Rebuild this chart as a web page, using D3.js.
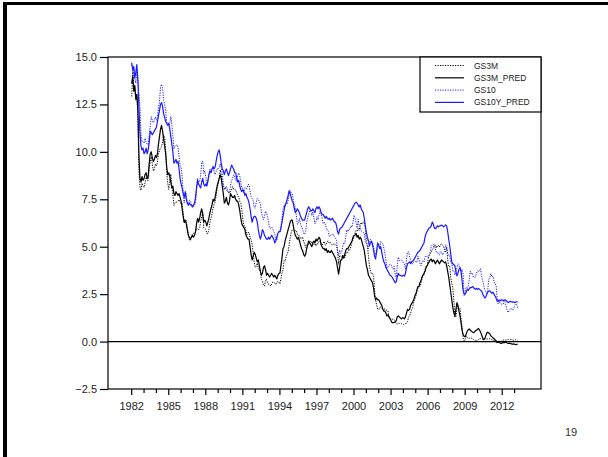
<!DOCTYPE html>
<html>
<head>
<meta charset="utf-8">
<script src="https://cdn.jsdelivr.net/npm/d3@7/dist/d3.min.js"></script>
<style>
  body { margin: 0; background: #fff; }
  svg { display: block; font-family: "Liberation Sans", Arial, sans-serif; }
</style>
</head>
<body>
<svg id="chart" width="608" height="457"></svg>
<script>
// Monthly observations, January 1982 through April 2013
const startYear = 1982;

const gs3m = [
  12.92,14.28,13.31,13.34,12.71,13.08,11.86,9.00,8.19,7.97,8.35,8.20,
  8.12,8.39,8.66,8.51,8.50,9.14,9.45,9.74,9.36,8.99,9.11,9.36,
  9.26,9.46,9.89,10.07,10.22,10.26,10.53,10.90,10.80,10.12,8.92,8.34,
  8.02,8.56,8.83,8.22,7.73,7.18,7.32,7.37,7.33,7.40,7.48,7.33,
  7.30,7.29,6.76,6.24,6.33,6.40,6.00,5.69,5.35,5.32,5.50,5.68,
  5.70,5.69,5.78,5.99,5.94,5.89,6.01,6.32,6.57,6.86,5.99,5.96,
  5.91,5.69,5.69,5.92,6.27,6.50,6.73,7.02,7.23,7.34,7.68,8.09,
  8.29,8.58,9.05,8.80,8.40,8.22,8.05,8.10,8.02,7.90,7.85,7.84,
  7.90,8.00,8.17,8.04,8.01,7.99,7.87,7.69,7.60,7.40,7.29,6.95,
  6.41,6.12,6.09,5.83,5.63,5.75,5.75,5.50,5.37,5.14,4.69,4.18,
  3.91,3.95,4.14,3.84,3.75,3.77,3.28,3.20,2.97,2.93,3.21,3.29,
  3.07,3.03,3.03,2.93,3.03,3.14,3.11,3.09,3.01,3.09,3.18,3.13,
  3.04,3.33,3.59,3.78,4.27,4.25,4.46,4.61,4.75,5.10,5.45,5.76,
  5.90,5.94,5.91,5.84,5.85,5.64,5.59,5.57,5.43,5.44,5.52,5.29,
  5.15,4.96,5.10,5.09,5.15,5.23,5.30,5.19,5.24,5.12,5.17,5.04,
  5.17,5.14,5.28,5.30,5.20,5.07,5.19,5.28,5.08,5.11,5.28,5.30,
  5.18,5.23,5.16,5.08,5.13,5.14,5.12,5.04,4.74,4.07,4.53,4.50,
  4.45,4.56,4.57,4.41,4.63,4.72,4.69,4.87,4.82,5.02,5.23,5.36,
  5.50,5.73,5.86,5.82,5.99,5.86,6.14,6.28,6.18,6.29,6.36,5.94,
  5.29,5.01,4.54,3.97,3.70,3.57,3.59,3.44,2.69,2.20,1.91,1.72,
  1.68,1.76,1.83,1.75,1.76,1.73,1.71,1.65,1.66,1.61,1.25,1.21,
  1.19,1.19,1.15,1.15,1.09,0.94,0.92,0.97,0.96,0.94,0.95,0.91,
  0.90,0.94,0.95,0.96,1.04,1.29,1.36,1.50,1.68,1.79,2.11,2.22,
  2.37,2.58,2.80,2.84,2.90,3.04,3.29,3.52,3.49,3.79,3.97,3.97,
  4.34,4.54,4.63,4.72,4.84,4.92,5.08,5.09,4.93,5.05,5.07,4.97,
  5.11,5.16,5.08,5.01,4.87,4.74,4.96,4.32,3.99,4.00,3.35,3.07,
  2.82,2.17,1.28,1.31,1.76,1.89,1.66,1.75,1.15,0.69,0.19,0.03,
  0.13,0.30,0.22,0.16,0.18,0.18,0.18,0.17,0.12,0.07,0.05,0.05,
  0.06,0.11,0.15,0.16,0.16,0.12,0.16,0.16,0.15,0.13,0.14,0.14,
  0.15,0.13,0.10,0.06,0.04,0.04,0.04,0.02,0.01,0.02,0.01,0.01,
  0.03,0.09,0.08,0.08,0.09,0.09,0.10,0.10,0.11,0.10,0.09,0.07,
  0.07,0.10,0.09,0.06
];

const gs3mPred = [
  13.6,14.0,13.2,13.5,12.8,13.0,12.2,9.8,8.6,8.4,8.7,8.5,
  8.6,8.8,8.9,8.6,8.7,9.4,9.9,10.0,9.7,9.5,9.6,9.8,
  9.7,9.9,10.4,10.8,11.2,11.4,11.1,10.7,10.3,9.9,9.2,8.8,
  8.9,8.7,8.4,8.1,8.2,7.8,7.7,7.9,7.8,7.7,7.8,7.6,
  7.4,7.0,6.6,6.3,6.4,6.2,5.9,5.6,5.5,5.4,5.5,5.6,
  5.5,5.6,5.8,6.2,6.5,6.3,6.5,6.8,7.0,6.7,6.3,6.4,
  6.3,6.1,6.3,6.5,6.8,7.0,7.2,7.5,7.4,7.6,7.9,8.2,
  8.4,8.6,8.8,8.6,8.2,7.8,7.3,7.4,7.6,7.3,7.2,7.4,
  7.8,7.7,7.6,7.6,7.7,7.5,7.4,7.4,7.2,6.9,6.5,6.2,
  6.1,6.0,5.9,5.6,5.5,5.4,5.4,5.0,4.6,4.3,4.5,4.7,
  4.6,4.4,4.2,4.3,4.0,3.7,3.5,3.6,3.9,4.0,3.8,3.5,
  3.6,3.5,3.4,3.5,3.6,3.5,3.4,3.5,3.4,3.3,3.5,3.6,
  3.6,4.0,4.4,4.9,5.0,5.3,5.5,5.7,5.9,6.1,6.3,6.4,
  6.4,6.1,5.8,5.6,5.5,5.4,5.5,5.3,5.1,4.9,4.8,4.6,
  4.5,4.6,4.9,5.1,5.3,5.2,5.1,5.0,5.2,5.3,5.2,5.4,
  5.3,5.4,5.5,5.4,5.1,5.0,4.9,4.9,4.8,4.9,4.7,4.8,
  4.7,4.7,4.8,4.7,4.6,4.5,4.4,4.2,3.9,3.55,3.9,4.3,
  4.3,4.5,4.4,4.6,4.8,4.9,4.9,5.0,5.1,5.2,5.3,5.5,
  5.6,5.6,5.7,5.5,5.6,5.4,5.5,5.4,5.2,5.0,4.8,4.4,
  4.0,3.8,3.5,3.4,3.3,3.2,3.1,2.8,2.4,2.2,2.3,2.2,
  2.2,2.1,2.0,1.9,1.7,1.6,1.6,1.5,1.35,1.4,1.3,1.2,
  1.1,1.0,1.0,1.0,1.05,1.1,1.3,1.35,1.3,1.25,1.2,1.25,
  1.25,1.2,1.3,1.5,1.7,1.65,1.7,1.9,2.0,2.1,2.2,2.4,
  2.5,2.7,2.9,2.9,3.1,3.2,3.4,3.5,3.6,3.7,3.9,4.0,
  4.1,4.2,4.3,4.35,4.2,4.3,4.25,4.1,4.2,4.3,4.2,4.1,
  4.2,4.3,4.25,4.2,4.15,4.2,4.0,3.7,3.4,3.0,2.6,2.2,
  1.8,1.5,1.34,1.7,2.05,1.9,1.6,1.34,1.0,0.6,0.37,0.28,
  0.25,0.4,0.55,0.62,0.67,0.6,0.55,0.5,0.47,0.5,0.58,0.6,
  0.65,0.69,0.6,0.5,0.35,0.2,0.1,0.15,0.3,0.45,0.5,0.45,
  0.4,0.3,0.25,0.2,0.15,0.1,0.02,-0.05,-0.03,-0.05,-0.08,-0.1,
  -0.07,-0.05,-0.06,-0.03,-0.05,-0.08,-0.1,-0.08,-0.1,-0.12,-0.14,-0.12,
  -0.14,-0.16,-0.15,-0.13
];

const gs10 = [
  14.59,14.43,13.86,13.87,13.62,14.30,13.95,13.06,12.34,10.91,10.55,10.54,
  10.46,10.72,10.51,10.40,10.38,10.85,11.38,11.85,11.65,11.54,11.69,11.83,
  11.67,11.84,12.32,12.63,13.41,13.56,13.36,12.72,12.52,12.16,11.57,11.50,
  11.38,11.51,11.86,11.43,10.85,10.16,10.31,10.33,10.37,10.24,9.78,9.26,
  9.19,8.70,7.78,7.30,7.71,7.80,7.30,7.17,7.45,7.43,7.25,7.11,
  7.08,7.25,7.25,8.02,8.61,8.40,8.45,8.76,9.42,9.52,8.86,8.99,
  8.67,8.21,8.37,8.72,9.09,8.92,9.06,9.26,8.98,8.80,8.96,9.11,
  9.09,9.17,9.36,9.18,8.86,8.28,8.02,8.11,8.19,8.01,7.87,7.84,
  8.21,8.47,8.59,8.79,8.76,8.48,8.47,8.75,8.89,8.72,8.39,8.08,
  8.09,7.85,8.11,8.04,8.07,8.28,8.27,7.90,7.65,7.53,7.42,7.09,
  7.03,7.34,7.54,7.48,7.39,7.26,6.84,6.59,6.42,6.59,6.87,6.77,
  6.60,6.26,5.98,5.97,6.04,5.96,5.81,5.68,5.36,5.33,5.72,5.77,
  5.75,5.97,6.48,6.97,7.18,7.10,7.30,7.24,7.46,7.74,7.96,7.81,
  7.78,7.47,7.20,7.06,6.63,6.17,6.28,6.49,6.20,6.04,5.93,5.71,
  5.65,5.81,6.27,6.51,6.74,6.91,6.87,6.64,6.83,6.53,6.20,6.30,
  6.58,6.42,6.69,6.89,6.71,6.49,6.22,6.30,6.21,6.03,5.88,5.81,
  5.54,5.57,5.65,5.64,5.65,5.50,5.46,5.34,4.81,4.53,4.83,4.65,
  4.72,5.00,5.23,5.18,5.54,5.90,5.79,5.94,5.92,6.11,6.03,6.28,
  6.66,6.52,6.26,5.99,6.44,6.10,6.05,5.83,5.80,5.74,5.72,5.24,
  5.16,5.10,4.89,5.14,5.39,5.28,5.24,4.97,4.73,4.57,4.65,5.09,
  5.04,4.91,5.28,5.21,5.16,4.93,4.65,4.26,3.87,3.94,4.05,4.03,
  4.05,3.90,3.81,3.96,3.57,3.33,3.98,4.45,4.27,4.29,4.30,4.27,
  4.15,4.08,3.83,4.35,4.72,4.73,4.50,4.28,4.13,4.10,4.19,4.23,
  4.22,4.17,4.50,4.34,4.14,4.00,4.18,4.26,4.20,4.46,4.54,4.47,
  4.42,4.57,4.72,4.99,5.11,5.11,5.09,4.88,4.72,4.73,4.60,4.56,
  4.76,4.72,4.56,4.69,4.75,5.10,5.00,4.67,4.52,4.53,4.15,4.10,
  3.74,3.74,3.51,3.68,3.88,4.10,4.01,3.89,3.69,3.81,3.53,2.42,
  2.52,2.87,2.82,2.93,3.29,3.72,3.56,3.59,3.40,3.39,3.40,3.59,
  3.73,3.69,3.73,3.85,3.42,3.20,3.01,2.70,2.65,2.54,2.76,3.29,
  3.39,3.58,3.41,3.46,3.17,3.00,3.00,2.30,1.98,2.15,2.01,1.98,
  1.97,1.97,2.17,2.05,1.80,1.62,1.53,1.68,1.72,1.75,1.65,1.72,
  1.91,1.98,1.96,1.76
];

const gs10Pred = [
  14.7,14.3,14.5,13.9,14.2,14.6,13.7,12.4,11.0,10.3,10.1,10.2,
  9.9,10.0,10.2,9.9,10.1,10.5,11.1,11.0,10.9,11.0,11.1,11.2,
  11.3,11.6,11.9,12.2,12.5,12.6,12.4,12.0,11.8,11.6,11.5,11.4,
  11.5,11.2,10.8,10.4,10.0,9.4,9.5,9.6,9.4,9.5,9.1,8.6,
  8.3,8.1,7.8,7.6,7.9,7.5,7.3,7.2,7.3,7.2,7.2,7.1,
  7.2,7.3,7.6,8.1,8.5,8.3,8.2,8.1,8.4,8.6,8.3,8.2,
  8.3,8.2,8.5,8.8,9.0,8.9,9.1,9.2,9.1,9.2,9.5,9.8,
  10.0,10.1,9.8,9.4,9.1,9.0,8.8,9.0,9.1,8.9,8.75,8.9,
  9.1,9.3,9.2,9.1,8.9,8.9,8.6,8.4,8.5,8.2,8.0,7.9,
  8.0,7.9,7.7,7.8,7.6,7.5,7.3,7.0,6.6,6.3,6.5,6.6,
  6.6,6.5,6.3,5.9,5.6,5.4,5.6,5.9,5.8,5.6,5.5,5.4,
  5.4,5.5,5.4,5.5,5.6,5.5,5.4,5.2,5.3,5.5,5.7,5.8,
  5.8,6.0,6.3,6.6,6.9,7.2,7.3,7.5,7.7,7.95,7.8,7.6,
  7.4,7.3,7.0,6.8,6.9,7.0,6.9,6.8,6.6,6.5,6.4,6.4,
  6.4,6.6,6.8,7.0,7.1,7.0,6.9,6.9,7.0,6.9,6.8,7.0,
  7.1,7.0,7.1,7.0,6.8,6.7,6.7,6.6,6.5,6.6,6.5,6.45,
  6.5,6.4,6.45,6.5,6.4,6.3,6.3,6.1,5.8,5.66,5.9,6.0,
  6.0,6.1,6.2,6.3,6.4,6.5,6.6,6.7,6.8,6.9,7.0,7.1,
  7.2,7.3,7.35,7.3,7.2,7.1,7.2,7.0,6.9,6.8,6.5,6.1,
  5.75,5.5,5.3,5.05,5.2,5.3,5.1,4.8,4.5,4.35,4.8,5.2,
  5.1,4.9,5.0,4.7,4.4,4.2,4.1,3.9,3.8,3.7,3.6,3.5,
  3.46,3.4,3.3,3.2,3.1,3.15,3.4,3.6,3.5,3.5,3.45,3.46,
  3.5,3.45,3.6,3.9,4.1,4.15,4.2,4.1,4.2,4.25,4.3,4.4,
  4.5,4.6,4.7,4.75,4.8,4.9,5.0,5.1,5.2,5.5,5.7,5.8,
  5.9,6.0,6.0,6.1,6.3,6.2,6.0,5.95,6.0,6.1,6.05,6.1,
  6.1,6.15,6.1,6.05,6.1,6.15,6.1,5.8,5.4,5.05,4.6,4.2,
  4.1,4.05,4.0,3.7,3.46,3.6,3.8,3.9,3.7,3.2,2.7,2.5,
  2.5,2.6,2.75,2.7,2.8,2.85,2.84,2.9,2.85,2.8,2.75,2.8,
  2.75,2.8,2.75,2.7,2.67,2.5,2.4,2.3,2.35,2.5,2.6,2.67,
  2.67,2.6,2.55,2.6,2.5,2.4,2.3,2.13,2.15,2.2,2.15,2.2,
  2.2,2.15,2.2,2.2,2.15,2.1,2.05,2.1,2.12,2.1,2.08,2.1,
  2.05,2.08,2.1,2.08
];

const seriesNames = ["GS3M", "GS3M_PRED", "GS10", "GS10Y_PRED"];
const yTickValues = [-2.5, 0, 2.5, 5, 7.5, 10, 12.5, 15];
const xTickYears = d3.range(1982, 2014);
const xLabelYears = [1982, 1985, 1988, 1991, 1994, 1997, 2000, 2003, 2006, 2009, 2012];
const pageNumber = "19";

// Drawing styles for each series, in legend order
const seriesValues = [gs3m, gs3mPred, gs10, gs10Pred];
const seriesStyle = [
  { color: "#000000", dash: "1.2,1.3", width: 1.0 },
  { color: "#000000", dash: null,      width: 1.2 },
  { color: "#1a1aff", dash: "1.2,1.3", width: 1.0 },
  { color: "#1a1aff", dash: null,      width: 1.2 }
];

const svg = d3.select("#chart");
const W = 608, H = 457;
const plot = { left: 108, right: 541, top: 57, bottom: 389 };

// Page frame (left and top edges)
svg.append("line").attr("x1", 5).attr("x2", 5).attr("y1", 2).attr("y2", H)
  .attr("stroke", "#000").attr("stroke-width", 4);
svg.append("line").attr("x1", 3).attr("x2", W).attr("y1", 3.5).attr("y2", 3.5)
  .attr("stroke", "#000").attr("stroke-width", 3);

const x = d3.scaleLinear().domain([1980.08, 2015.14]).range([plot.left, plot.right]);
const y = d3.scaleLinear().domain([-2.5, 15]).range([plot.bottom, plot.top]);

const dateOf = i => startYear + i / 12;

// Plot box
const g = svg.append("g");
g.append("rect")
  .attr("x", plot.left).attr("y", plot.top)
  .attr("width", plot.right - plot.left).attr("height", plot.bottom - plot.top)
  .attr("fill", "none").attr("stroke", "#000").attr("stroke-width", 1.2);

// Zero reference line
g.append("line")
  .attr("x1", plot.left).attr("x2", plot.right)
  .attr("y1", y(0)).attr("y2", y(0))
  .attr("stroke", "#000").attr("stroke-width", 1.2);

// Y axis
const yAxis = d3.axisLeft(y).tickValues(yTickValues).tickFormat(d3.format(".1f")).tickSize(8).tickPadding(3);
const ya = g.append("g").attr("transform", `translate(${plot.left},0)`).call(yAxis);
ya.select(".domain").remove();
ya.selectAll("line").attr("stroke", "#000").attr("stroke-width", 1.2);
ya.selectAll("text").attr("font-size", 11).attr("fill", "#222")
  .attr("font-family", "'Liberation Sans', Arial, sans-serif");

// X axis: a tick every year, labels every third year
const xa = g.append("g").attr("transform", `translate(0,${plot.bottom})`);
xa.selectAll("line.tick").data(xTickYears).join("line")
  .attr("class", "tick")
  .attr("x1", d => x(d)).attr("x2", d => x(d))
  .attr("y1", 0).attr("y2", d => xLabelYears.includes(d) ? 6 : 4)
  .attr("stroke", "#000").attr("stroke-width", 1.2);
xa.selectAll("text").data(xLabelYears).join("text")
  .attr("x", d => x(d)).attr("y", 21)
  .attr("text-anchor", "middle")
  .attr("font-size", 11).attr("fill", "#222")
  .text(d => d);

// Series lines
const line = d3.line().x((d, i) => x(dateOf(i))).y(d => y(d));
seriesValues.forEach((vals, k) => {
  const s = seriesStyle[k];
  g.append("path")
    .datum(vals)
    .attr("d", line)
    .attr("fill", "none")
    .attr("stroke", s.color)
    .attr("stroke-width", s.width)
    .attr("stroke-dasharray", s.dash)
    .attr("stroke-linejoin", "round");
});

// Legend box in the upper-right corner of the plot
const lg = g.append("g");
lg.append("rect")
  .attr("x", 420).attr("y", plot.top)
  .attr("width", plot.right - 420).attr("height", 55)
  .attr("fill", "#fff").attr("stroke", "#000").attr("stroke-width", 1.2);
seriesNames.forEach((name, k) => {
  const s = seriesStyle[k];
  const yy = 65.5 + k * 12.3;
  lg.append("line")
    .attr("x1", 435).attr("x2", 464).attr("y1", yy).attr("y2", yy)
    .attr("stroke", s.color).attr("stroke-width", s.width)
    .attr("stroke-dasharray", s.dash);
  lg.append("text")
    .attr("x", 474).attr("y", yy + 3)
    .attr("font-size", 8.5).attr("fill", "#222")
    .text(name);
});

// Page number
svg.append("text")
  .attr("x", 571).attr("y", 436)
  .attr("text-anchor", "middle")
  .attr("font-size", 11).attr("fill", "#333")
  .text(pageNumber);
</script>
</body>
</html>
